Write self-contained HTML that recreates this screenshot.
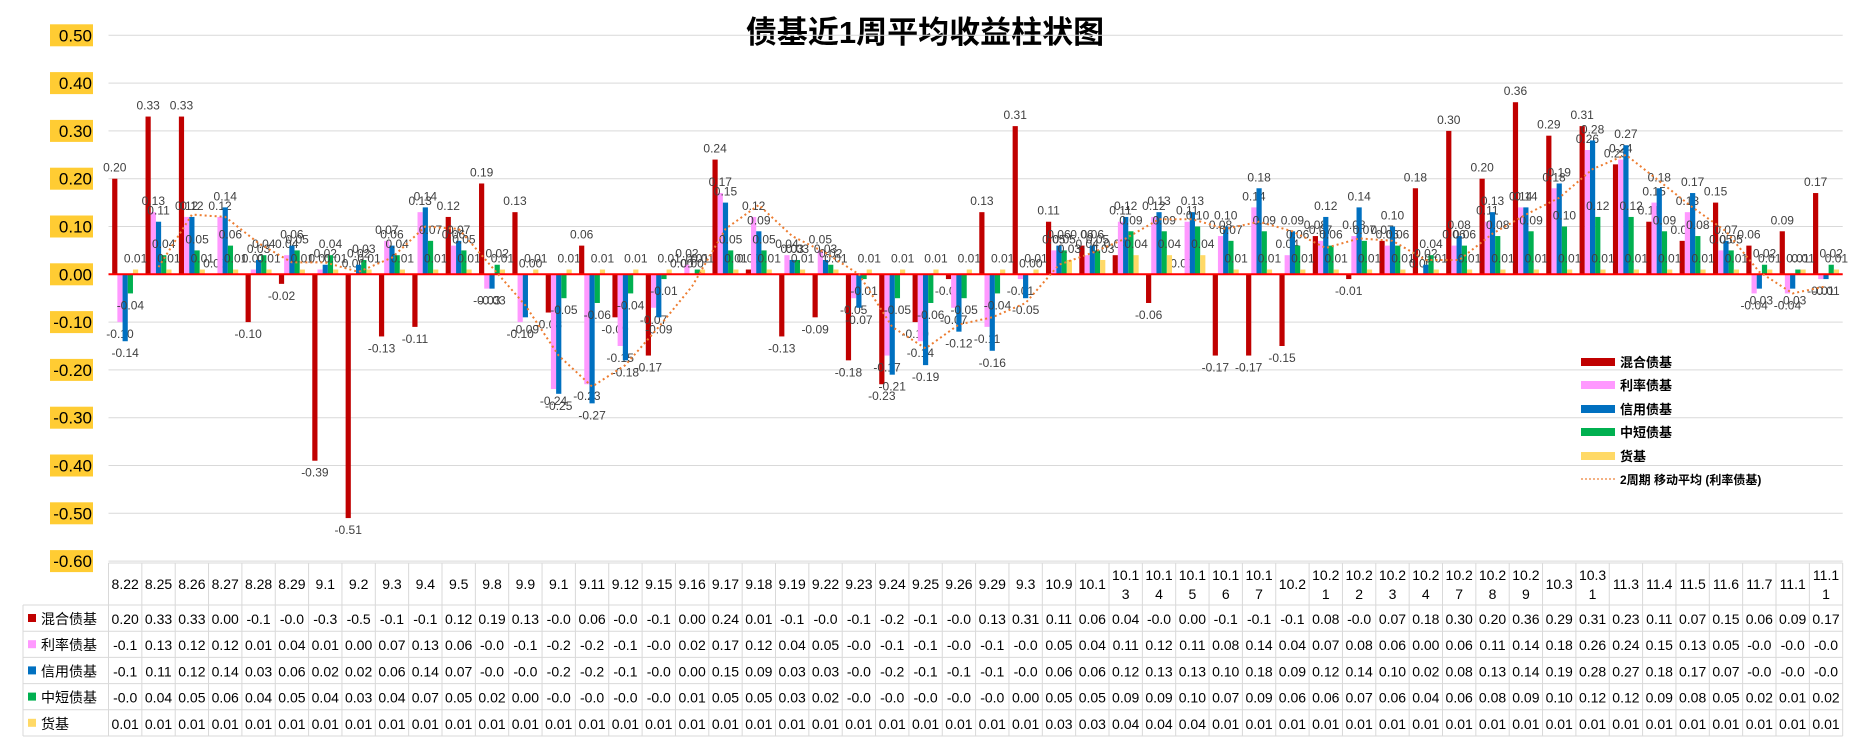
<!DOCTYPE html>
<html><head><meta charset="utf-8">
<style>
html,body{margin:0;padding:0;background:#fff;}
svg{display:block;font-family:"Liberation Sans","Noto Sans CJK SC",sans-serif;}
</style></head>
<body>
<svg id="chart" width="1850" height="744" xmlns="http://www.w3.org/2000/svg">
<text x="925" y="43" text-anchor="middle" font-size="31" font-weight="bold" fill="#000" font-family="'Liberation Sans','Noto Sans CJK SC',sans-serif">债基近1周平均收益柱状图</text>
</svg>
<script>
const categories=["8.22","8.25","8.26","8.27","8.28","8.29","9.1","9.2","9.3","9.4","9.5","9.8","9.9","9.1","9.11","9.12","9.15","9.16","9.17","9.18","9.19","9.22","9.23","9.24","9.25","9.26","9.29","9.3","10.9","10.1","10.13","10.14","10.15","10.16","10.17","10.2","10.21","10.22","10.23","10.24","10.27","10.28","10.29","10.3","10.31","11.3","11.4","11.5","11.6","11.7","11.1","11.11"];
const mixed=[0.20,0.33,0.33,0.00,-0.10,-0.02,-0.39,-0.51,-0.13,-0.11,0.12,0.19,0.13,-0.08,0.06,-0.09,-0.17,0.00,0.24,0.01,-0.13,-0.09,-0.18,-0.23,-0.10,-0.01,0.13,0.31,0.11,0.06,0.04,-0.06,0.00,-0.17,-0.17,-0.15,0.08,-0.01,0.07,0.18,0.30,0.20,0.36,0.29,0.31,0.23,0.11,0.07,0.15,0.06,0.09,0.17];
const rate=[-0.10,0.13,0.12,0.12,0.01,0.04,0.01,0.00,0.07,0.13,0.06,-0.03,-0.10,-0.24,-0.23,-0.15,-0.07,0.02,0.17,0.12,0.04,0.05,-0.05,-0.17,-0.14,-0.07,-0.11,-0.01,0.05,0.04,0.11,0.12,0.11,0.08,0.14,0.04,0.07,0.08,0.06,0.00,0.06,0.11,0.14,0.18,0.26,0.24,0.15,0.13,0.05,-0.04,-0.04,-0.01];
const credit=[-0.14,0.11,0.12,0.14,0.03,0.06,0.02,0.02,0.06,0.14,0.07,-0.03,-0.09,-0.25,-0.27,-0.18,-0.09,0.00,0.15,0.09,0.03,0.03,-0.07,-0.21,-0.19,-0.12,-0.16,-0.05,0.06,0.06,0.12,0.13,0.13,0.10,0.18,0.09,0.12,0.14,0.10,0.02,0.08,0.13,0.14,0.19,0.28,0.27,0.18,0.17,0.07,-0.03,-0.03,-0.01];
const shortTerm=[-0.04,0.04,0.05,0.06,0.04,0.05,0.04,0.03,0.04,0.07,0.05,0.02,0.00,-0.05,-0.06,-0.04,-0.01,0.01,0.05,0.05,0.03,0.02,-0.01,-0.05,-0.06,-0.05,-0.04,0.00,0.05,0.05,0.09,0.09,0.10,0.07,0.09,0.06,0.06,0.07,0.06,0.04,0.06,0.08,0.09,0.10,0.12,0.12,0.09,0.08,0.05,0.02,0.01,0.02];
const money=[0.01,0.01,0.01,0.01,0.01,0.01,0.01,0.01,0.01,0.01,0.01,0.01,0.01,0.01,0.01,0.01,0.01,0.01,0.01,0.01,0.01,0.01,0.01,0.01,0.01,0.01,0.01,0.01,0.03,0.03,0.04,0.04,0.04,0.01,0.01,0.01,0.01,0.01,0.01,0.01,0.01,0.01,0.01,0.01,0.01,0.01,0.01,0.01,0.01,0.01,0.01,0.01];
const yTicks=[0.5,0.4,0.3,0.2,0.1,0,-0.1,-0.2,-0.3,-0.4,-0.5,-0.6];
const seriesNames=["混合债基","利率债基","信用债基","中短债基","货基"];
const seriesKeys=["mixed","rate","credit","short-term","money"];

const svg=document.getElementById('chart');
const NS='http://www.w3.org/2000/svg';
const colors=["#C00000","#FF99FF","#0070C0","#00B050","#FFD966"];
const series=[mixed,rate,credit,shortTerm,money];
const L=108.5,R=1842.7,cw=(R-L)/categories.length;
const y0=274.3,perUnit=478;
function y(v){return y0-v*perUnit;}
function xc(i){return L+cw*(i+0.5);}
function mk(tag,attrs){const e=document.createElementNS(NS,tag);for(const k in attrs)e.setAttribute(k,attrs[k]);svg.appendChild(e);return e;}
function fmt(v){return v.toFixed(2);}
function trunc(v){let s=v.toFixed(2);if(s.length>4)s=s.slice(0,4);return s;}

// gridlines & y labels
yTicks.forEach(t=>{
  const g=mk('line',{x1:L,x2:R,y1:y(t),y2:y(t),stroke:'#D9D9D9','stroke-width':1});
  
  
  const bg=mk('rect',{x:50,y:y(t)-11,width:43,height:22,fill:'#FFCC33'});
  
  
  const tx=mk('text',{x:92,y:y(t)+6,'text-anchor':'end','font-size':17,fill:'#000'});
  tx.textContent=fmt(t);
  
  
});

// bars
const bw=5.2;
series.forEach((s,si)=>{
  s.forEach((v,i)=>{
    const x=xc(i)+(si-2.5)*bw;
    const tp=Math.min(y(v),y(0)),h=Math.max(Math.abs(y(v)-y(0)),0.6);
    const r=mk('rect',{x:x,y:tp,width:bw,height:h,fill:colors[si]});
    
    
    const t=mk('text',{x:x+bw/2,y:v>=0?y(v)-7:y(v)+16,'text-anchor':'middle','font-size':12,fill:'#404040'});
    t.textContent=fmt(v);
    
    
  });
});
// zero axis
const ax=mk('line',{x1:L,x2:R,y1:y(0),y2:y(0),stroke:'#FF0000','stroke-width':2});



// moving average
let pts=[];
for(let i=1;i<rate.length;i++){pts.push(xc(i).toFixed(1)+','+y((rate[i]+rate[i-1])/2).toFixed(1));}
const ma=mk('polyline',{points:pts.join(' '),fill:'none',stroke:'#ED7D31','stroke-width':2,'stroke-dasharray':'2,3'});



// legend
const legY=[362,385,409,432,456];
seriesNames.forEach((n,si)=>{
  const r=mk('rect',{x:1581,y:legY[si]-4,width:34,height:8,fill:colors[si]});
  
  
  const t=mk('text',{x:1620,y:legY[si]+5,'font-size':13,'font-weight':'bold',fill:'#000'});
  t.textContent=n;
  
  
});
const ll=mk('line',{x1:1581,x2:1615,y1:479,y2:479,stroke:'#F4B183','stroke-width':2,'stroke-dasharray':'2,2'});


const lt=mk('text',{x:1620,y:484,'font-size':12,'font-weight':'bold',fill:'#000'});
lt.textContent='2周期 移动平均 (利率债基)';



// data table
const tblTop=563,hdrB=605,rh=26.2,tblBottom=hdrB+rh*5;
function tline(x1,y1,x2,y2){const l=mk('line',{x1,y1,x2,y2,stroke:'#D9D9D9','stroke-width':1});}
tline(L,tblTop,R,tblTop);
for(let r=0;r<=5;r++)tline(23,hdrB+rh*r,R,hdrB+rh*r);
tline(23,hdrB,23,tblBottom);
for(let i=0;i<=categories.length;i++)tline(L+cw*i,tblTop,L+cw*i,tblBottom);
categories.forEach((c,i)=>{
  const x=xc(i);
  if(c.length>4){
    const t1=mk('text',{x:x,y:580,'text-anchor':'middle','font-size':14,fill:'#000'});t1.textContent=c.slice(0,4);
    
    
    const t2=mk('text',{x:x,y:599,'text-anchor':'middle','font-size':14,fill:'#000'});t2.textContent=c.slice(4);
    
    
  } else {
    const t=mk('text',{x:x,y:589,'text-anchor':'middle','font-size':14,fill:'#000'});t.textContent=c;
    
    
  }
});
series.forEach((s,si)=>{
  const ry=hdrB+rh*si;
  const sw=mk('rect',{x:28,y:ry+9,width:8,height:8,fill:colors[si]});
  
  
  const nt=mk('text',{x:41,y:ry+19,'font-size':14,fill:'#000'});nt.textContent=seriesNames[si];
  
  
  s.forEach((v,i)=>{
    const t=mk('text',{x:xc(i),y:ry+19,'text-anchor':'middle','font-size':14,fill:'#000'});
    t.textContent=trunc(v);
    
    
  });
});
</script>
</body></html>
